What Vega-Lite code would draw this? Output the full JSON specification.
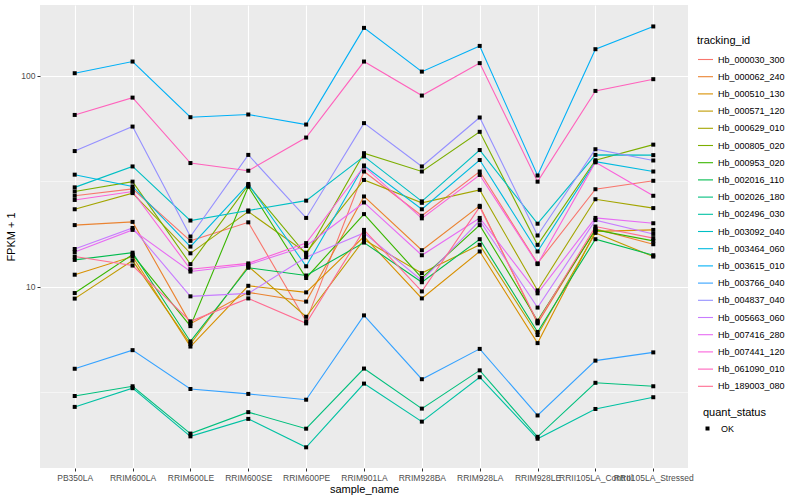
{
"$schema": "https://vega.github.io/schema/vega-lite/v6.json",
"width": 648, "height": 463,
"autosize": "none",
"padding": {"left": 40, "top": 5, "right": 112, "bottom": 32},
"background": "white",
"config": {
 "font": "Liberation Sans",
 "view": {"fill": "#EBEBEB", "stroke": null},
 "axis": {"domain": false, "gridColor": "white", "tickColor": "#333333", "labelColor": "#4D4D4D", "labelFontSize": 8.5, "titleFontSize": 11, "titleFontWeight": "normal", "titleColor": "black", "tickSize": 3, "labelPadding": 2},
 "legend": {"padding": 0, "titleFontSize": 11, "titleFontWeight": "normal", "titleColor": "black", "labelFontSize": 9, "labelColor": "black"}
},
"datasets": {"expr": [
{"sample_name":"PB350LA","tracking_id":"Hb_000030_300","fpkm":27.0,"quant_status":"OK"},
{"sample_name":"RRIM600LA","tracking_id":"Hb_000030_300","fpkm":29.1,"quant_status":"OK"},
{"sample_name":"RRIM600LE","tracking_id":"Hb_000030_300","fpkm":16.5,"quant_status":"OK"},
{"sample_name":"RRIM600SE","tracking_id":"Hb_000030_300","fpkm":20.2,"quant_status":"OK"},
{"sample_name":"RRIM600PE","tracking_id":"Hb_000030_300","fpkm":6.85,"quant_status":"OK"},
{"sample_name":"RRIM901LA","tracking_id":"Hb_000030_300","fpkm":35.2,"quant_status":"OK"},
{"sample_name":"RRIM928BA","tracking_id":"Hb_000030_300","fpkm":21.7,"quant_status":"OK"},
{"sample_name":"RRIM928LA","tracking_id":"Hb_000030_300","fpkm":35.2,"quant_status":"OK"},
{"sample_name":"RRIM928LE","tracking_id":"Hb_000030_300","fpkm":12.9,"quant_status":"OK"},
{"sample_name":"RRII105LA_Control","tracking_id":"Hb_000030_300","fpkm":29.0,"quant_status":"OK"},
{"sample_name":"RRII105LA_Stressed","tracking_id":"Hb_000030_300","fpkm":31.8,"quant_status":"OK"},
{"sample_name":"PB350LA","tracking_id":"Hb_000062_240","fpkm":19.6,"quant_status":"OK"},
{"sample_name":"RRIM600LA","tracking_id":"Hb_000062_240","fpkm":20.3,"quant_status":"OK"},
{"sample_name":"RRIM600LE","tracking_id":"Hb_000062_240","fpkm":6.68,"quant_status":"OK"},
{"sample_name":"RRIM600SE","tracking_id":"Hb_000062_240","fpkm":9.4,"quant_status":"OK"},
{"sample_name":"RRIM600PE","tracking_id":"Hb_000062_240","fpkm":8.5,"quant_status":"OK"},
{"sample_name":"RRIM901LA","tracking_id":"Hb_000062_240","fpkm":26.8,"quant_status":"OK"},
{"sample_name":"RRIM928BA","tracking_id":"Hb_000062_240","fpkm":14.9,"quant_status":"OK"},
{"sample_name":"RRIM928LA","tracking_id":"Hb_000062_240","fpkm":24.2,"quant_status":"OK"},
{"sample_name":"RRIM928LE","tracking_id":"Hb_000062_240","fpkm":6.7,"quant_status":"OK"},
{"sample_name":"RRII105LA_Control","tracking_id":"Hb_000062_240","fpkm":18.8,"quant_status":"OK"},
{"sample_name":"RRII105LA_Stressed","tracking_id":"Hb_000062_240","fpkm":15.9,"quant_status":"OK"},
{"sample_name":"PB350LA","tracking_id":"Hb_000510_130","fpkm":11.4,"quant_status":"OK"},
{"sample_name":"RRIM600LA","tracking_id":"Hb_000510_130","fpkm":13.9,"quant_status":"OK"},
{"sample_name":"RRIM600LE","tracking_id":"Hb_000510_130","fpkm":5.2,"quant_status":"OK"},
{"sample_name":"RRIM600SE","tracking_id":"Hb_000510_130","fpkm":10.1,"quant_status":"OK"},
{"sample_name":"RRIM600PE","tracking_id":"Hb_000510_130","fpkm":9.4,"quant_status":"OK"},
{"sample_name":"RRIM901LA","tracking_id":"Hb_000510_130","fpkm":17.3,"quant_status":"OK"},
{"sample_name":"RRIM928BA","tracking_id":"Hb_000510_130","fpkm":8.8,"quant_status":"OK"},
{"sample_name":"RRIM928LA","tracking_id":"Hb_000510_130","fpkm":14.7,"quant_status":"OK"},
{"sample_name":"RRIM928LE","tracking_id":"Hb_000510_130","fpkm":5.4,"quant_status":"OK"},
{"sample_name":"RRII105LA_Control","tracking_id":"Hb_000510_130","fpkm":18.3,"quant_status":"OK"},
{"sample_name":"RRII105LA_Stressed","tracking_id":"Hb_000510_130","fpkm":18.6,"quant_status":"OK"},
{"sample_name":"PB350LA","tracking_id":"Hb_000571_120","fpkm":8.78,"quant_status":"OK"},
{"sample_name":"RRIM600LA","tracking_id":"Hb_000571_120","fpkm":13.3,"quant_status":"OK"},
{"sample_name":"RRIM600LE","tracking_id":"Hb_000571_120","fpkm":5.35,"quant_status":"OK"},
{"sample_name":"RRIM600SE","tracking_id":"Hb_000571_120","fpkm":12.5,"quant_status":"OK"},
{"sample_name":"RRIM600PE","tracking_id":"Hb_000571_120","fpkm":7.2,"quant_status":"OK"},
{"sample_name":"RRIM901LA","tracking_id":"Hb_000571_120","fpkm":16.7,"quant_status":"OK"},
{"sample_name":"RRIM928BA","tracking_id":"Hb_000571_120","fpkm":11.6,"quant_status":"OK"},
{"sample_name":"RRIM928LA","tracking_id":"Hb_000571_120","fpkm":15.8,"quant_status":"OK"},
{"sample_name":"RRIM928LE","tracking_id":"Hb_000571_120","fpkm":5.9,"quant_status":"OK"},
{"sample_name":"RRII105LA_Control","tracking_id":"Hb_000571_120","fpkm":18.0,"quant_status":"OK"},
{"sample_name":"RRII105LA_Stressed","tracking_id":"Hb_000571_120","fpkm":13.9,"quant_status":"OK"},
{"sample_name":"PB350LA","tracking_id":"Hb_000629_010","fpkm":23.3,"quant_status":"OK"},
{"sample_name":"RRIM600LA","tracking_id":"Hb_000629_010","fpkm":27.8,"quant_status":"OK"},
{"sample_name":"RRIM600LE","tracking_id":"Hb_000629_010","fpkm":14.4,"quant_status":"OK"},
{"sample_name":"RRIM600SE","tracking_id":"Hb_000629_010","fpkm":22.7,"quant_status":"OK"},
{"sample_name":"RRIM600PE","tracking_id":"Hb_000629_010","fpkm":14.5,"quant_status":"OK"},
{"sample_name":"RRIM901LA","tracking_id":"Hb_000629_010","fpkm":32.1,"quant_status":"OK"},
{"sample_name":"RRIM928BA","tracking_id":"Hb_000629_010","fpkm":25.0,"quant_status":"OK"},
{"sample_name":"RRIM928LA","tracking_id":"Hb_000629_010","fpkm":28.8,"quant_status":"OK"},
{"sample_name":"RRIM928LE","tracking_id":"Hb_000629_010","fpkm":9.6,"quant_status":"OK"},
{"sample_name":"RRII105LA_Control","tracking_id":"Hb_000629_010","fpkm":26.0,"quant_status":"OK"},
{"sample_name":"RRII105LA_Stressed","tracking_id":"Hb_000629_010","fpkm":23.6,"quant_status":"OK"},
{"sample_name":"PB350LA","tracking_id":"Hb_000805_020","fpkm":28.3,"quant_status":"OK"},
{"sample_name":"RRIM600LA","tracking_id":"Hb_000805_020","fpkm":31.5,"quant_status":"OK"},
{"sample_name":"RRIM600LE","tracking_id":"Hb_000805_020","fpkm":12.8,"quant_status":"OK"},
{"sample_name":"RRIM600SE","tracking_id":"Hb_000805_020","fpkm":30.3,"quant_status":"OK"},
{"sample_name":"RRIM600PE","tracking_id":"Hb_000805_020","fpkm":14.2,"quant_status":"OK"},
{"sample_name":"RRIM901LA","tracking_id":"Hb_000805_020","fpkm":43.0,"quant_status":"OK"},
{"sample_name":"RRIM928BA","tracking_id":"Hb_000805_020","fpkm":35.2,"quant_status":"OK"},
{"sample_name":"RRIM928LA","tracking_id":"Hb_000805_020","fpkm":54.3,"quant_status":"OK"},
{"sample_name":"RRIM928LE","tracking_id":"Hb_000805_020","fpkm":15.8,"quant_status":"OK"},
{"sample_name":"RRII105LA_Control","tracking_id":"Hb_000805_020","fpkm":39.8,"quant_status":"OK"},
{"sample_name":"RRII105LA_Stressed","tracking_id":"Hb_000805_020","fpkm":47.2,"quant_status":"OK"},
{"sample_name":"PB350LA","tracking_id":"Hb_000953_020","fpkm":9.33,"quant_status":"OK"},
{"sample_name":"RRIM600LA","tracking_id":"Hb_000953_020","fpkm":14.2,"quant_status":"OK"},
{"sample_name":"RRIM600LE","tracking_id":"Hb_000953_020","fpkm":6.5,"quant_status":"OK"},
{"sample_name":"RRIM600SE","tracking_id":"Hb_000953_020","fpkm":29.8,"quant_status":"OK"},
{"sample_name":"RRIM600PE","tracking_id":"Hb_000953_020","fpkm":11.0,"quant_status":"OK"},
{"sample_name":"RRIM901LA","tracking_id":"Hb_000953_020","fpkm":22.1,"quant_status":"OK"},
{"sample_name":"RRIM928BA","tracking_id":"Hb_000953_020","fpkm":11.0,"quant_status":"OK"},
{"sample_name":"RRIM928LA","tracking_id":"Hb_000953_020","fpkm":19.6,"quant_status":"OK"},
{"sample_name":"RRIM928LE","tracking_id":"Hb_000953_020","fpkm":6.9,"quant_status":"OK"},
{"sample_name":"RRII105LA_Control","tracking_id":"Hb_000953_020","fpkm":18.6,"quant_status":"OK"},
{"sample_name":"RRII105LA_Stressed","tracking_id":"Hb_000953_020","fpkm":16.5,"quant_status":"OK"},
{"sample_name":"PB350LA","tracking_id":"Hb_002016_110","fpkm":13.4,"quant_status":"OK"},
{"sample_name":"RRIM600LA","tracking_id":"Hb_002016_110","fpkm":14.5,"quant_status":"OK"},
{"sample_name":"RRIM600LE","tracking_id":"Hb_002016_110","fpkm":5.5,"quant_status":"OK"},
{"sample_name":"RRIM600SE","tracking_id":"Hb_002016_110","fpkm":12.3,"quant_status":"OK"},
{"sample_name":"RRIM600PE","tracking_id":"Hb_002016_110","fpkm":11.3,"quant_status":"OK"},
{"sample_name":"RRIM901LA","tracking_id":"Hb_002016_110","fpkm":16.2,"quant_status":"OK"},
{"sample_name":"RRIM928BA","tracking_id":"Hb_002016_110","fpkm":10.5,"quant_status":"OK"},
{"sample_name":"RRIM928LA","tracking_id":"Hb_002016_110","fpkm":16.8,"quant_status":"OK"},
{"sample_name":"RRIM928LE","tracking_id":"Hb_002016_110","fpkm":6.1,"quant_status":"OK"},
{"sample_name":"RRII105LA_Control","tracking_id":"Hb_002016_110","fpkm":16.8,"quant_status":"OK"},
{"sample_name":"RRII105LA_Stressed","tracking_id":"Hb_002016_110","fpkm":14.1,"quant_status":"OK"},
{"sample_name":"PB350LA","tracking_id":"Hb_002026_180","fpkm":3.03,"quant_status":"OK"},
{"sample_name":"RRIM600LA","tracking_id":"Hb_002026_180","fpkm":3.37,"quant_status":"OK"},
{"sample_name":"RRIM600LE","tracking_id":"Hb_002026_180","fpkm":2.01,"quant_status":"OK"},
{"sample_name":"RRIM600SE","tracking_id":"Hb_002026_180","fpkm":2.54,"quant_status":"OK"},
{"sample_name":"RRIM600PE","tracking_id":"Hb_002026_180","fpkm":2.12,"quant_status":"OK"},
{"sample_name":"RRIM901LA","tracking_id":"Hb_002026_180","fpkm":4.09,"quant_status":"OK"},
{"sample_name":"RRIM928BA","tracking_id":"Hb_002026_180","fpkm":2.64,"quant_status":"OK"},
{"sample_name":"RRIM928LA","tracking_id":"Hb_002026_180","fpkm":4.01,"quant_status":"OK"},
{"sample_name":"RRIM928LE","tracking_id":"Hb_002026_180","fpkm":1.94,"quant_status":"OK"},
{"sample_name":"RRII105LA_Control","tracking_id":"Hb_002026_180","fpkm":3.5,"quant_status":"OK"},
{"sample_name":"RRII105LA_Stressed","tracking_id":"Hb_002026_180","fpkm":3.37,"quant_status":"OK"},
{"sample_name":"PB350LA","tracking_id":"Hb_002496_030","fpkm":2.69,"quant_status":"OK"},
{"sample_name":"RRIM600LA","tracking_id":"Hb_002496_030","fpkm":3.30,"quant_status":"OK"},
{"sample_name":"RRIM600LE","tracking_id":"Hb_002496_030","fpkm":1.95,"quant_status":"OK"},
{"sample_name":"RRIM600SE","tracking_id":"Hb_002496_030","fpkm":2.36,"quant_status":"OK"},
{"sample_name":"RRIM600PE","tracking_id":"Hb_002496_030","fpkm":1.73,"quant_status":"OK"},
{"sample_name":"RRIM901LA","tracking_id":"Hb_002496_030","fpkm":3.47,"quant_status":"OK"},
{"sample_name":"RRIM928BA","tracking_id":"Hb_002496_030","fpkm":2.29,"quant_status":"OK"},
{"sample_name":"RRIM928LA","tracking_id":"Hb_002496_030","fpkm":3.72,"quant_status":"OK"},
{"sample_name":"RRIM928LE","tracking_id":"Hb_002496_030","fpkm":1.9,"quant_status":"OK"},
{"sample_name":"RRII105LA_Control","tracking_id":"Hb_002496_030","fpkm":2.63,"quant_status":"OK"},
{"sample_name":"RRII105LA_Stressed","tracking_id":"Hb_002496_030","fpkm":2.99,"quant_status":"OK"},
{"sample_name":"PB350LA","tracking_id":"Hb_003092_040","fpkm":29.6,"quant_status":"OK"},
{"sample_name":"RRIM600LA","tracking_id":"Hb_003092_040","fpkm":37.2,"quant_status":"OK"},
{"sample_name":"RRIM600LE","tracking_id":"Hb_003092_040","fpkm":20.6,"quant_status":"OK"},
{"sample_name":"RRIM600SE","tracking_id":"Hb_003092_040","fpkm":23.0,"quant_status":"OK"},
{"sample_name":"RRIM600PE","tracking_id":"Hb_003092_040","fpkm":25.6,"quant_status":"OK"},
{"sample_name":"RRIM901LA","tracking_id":"Hb_003092_040","fpkm":41.5,"quant_status":"OK"},
{"sample_name":"RRIM928BA","tracking_id":"Hb_003092_040","fpkm":25.4,"quant_status":"OK"},
{"sample_name":"RRIM928LA","tracking_id":"Hb_003092_040","fpkm":44.5,"quant_status":"OK"},
{"sample_name":"RRIM928LE","tracking_id":"Hb_003092_040","fpkm":19.9,"quant_status":"OK"},
{"sample_name":"RRII105LA_Control","tracking_id":"Hb_003092_040","fpkm":42.2,"quant_status":"OK"},
{"sample_name":"RRII105LA_Stressed","tracking_id":"Hb_003092_040","fpkm":42.1,"quant_status":"OK"},
{"sample_name":"PB350LA","tracking_id":"Hb_003464_060","fpkm":34.0,"quant_status":"OK"},
{"sample_name":"RRIM600LA","tracking_id":"Hb_003464_060","fpkm":29.9,"quant_status":"OK"},
{"sample_name":"RRIM600LE","tracking_id":"Hb_003464_060","fpkm":15.5,"quant_status":"OK"},
{"sample_name":"RRIM600SE","tracking_id":"Hb_003464_060","fpkm":30.7,"quant_status":"OK"},
{"sample_name":"RRIM600PE","tracking_id":"Hb_003464_060","fpkm":12.5,"quant_status":"OK"},
{"sample_name":"RRIM901LA","tracking_id":"Hb_003464_060","fpkm":37.6,"quant_status":"OK"},
{"sample_name":"RRIM928BA","tracking_id":"Hb_003464_060","fpkm":23.3,"quant_status":"OK"},
{"sample_name":"RRIM928LA","tracking_id":"Hb_003464_060","fpkm":39.9,"quant_status":"OK"},
{"sample_name":"RRIM928LE","tracking_id":"Hb_003464_060","fpkm":14.7,"quant_status":"OK"},
{"sample_name":"RRII105LA_Control","tracking_id":"Hb_003464_060","fpkm":39.2,"quant_status":"OK"},
{"sample_name":"RRII105LA_Stressed","tracking_id":"Hb_003464_060","fpkm":35.2,"quant_status":"OK"},
{"sample_name":"PB350LA","tracking_id":"Hb_003615_010","fpkm":103,"quant_status":"OK"},
{"sample_name":"RRIM600LA","tracking_id":"Hb_003615_010","fpkm":117,"quant_status":"OK"},
{"sample_name":"RRIM600LE","tracking_id":"Hb_003615_010","fpkm":63.7,"quant_status":"OK"},
{"sample_name":"RRIM600SE","tracking_id":"Hb_003615_010","fpkm":65.6,"quant_status":"OK"},
{"sample_name":"RRIM600PE","tracking_id":"Hb_003615_010","fpkm":58.8,"quant_status":"OK"},
{"sample_name":"RRIM901LA","tracking_id":"Hb_003615_010","fpkm":169,"quant_status":"OK"},
{"sample_name":"RRIM928BA","tracking_id":"Hb_003615_010","fpkm":104.8,"quant_status":"OK"},
{"sample_name":"RRIM928LA","tracking_id":"Hb_003615_010","fpkm":138.8,"quant_status":"OK"},
{"sample_name":"RRIM928LE","tracking_id":"Hb_003615_010","fpkm":33.7,"quant_status":"OK"},
{"sample_name":"RRII105LA_Control","tracking_id":"Hb_003615_010","fpkm":133.9,"quant_status":"OK"},
{"sample_name":"RRII105LA_Stressed","tracking_id":"Hb_003615_010","fpkm":171.7,"quant_status":"OK"},
{"sample_name":"PB350LA","tracking_id":"Hb_003766_040","fpkm":4.08,"quant_status":"OK"},
{"sample_name":"RRIM600LA","tracking_id":"Hb_003766_040","fpkm":5.0,"quant_status":"OK"},
{"sample_name":"RRIM600LE","tracking_id":"Hb_003766_040","fpkm":3.27,"quant_status":"OK"},
{"sample_name":"RRIM600SE","tracking_id":"Hb_003766_040","fpkm":3.10,"quant_status":"OK"},
{"sample_name":"RRIM600PE","tracking_id":"Hb_003766_040","fpkm":2.91,"quant_status":"OK"},
{"sample_name":"RRIM901LA","tracking_id":"Hb_003766_040","fpkm":7.31,"quant_status":"OK"},
{"sample_name":"RRIM928BA","tracking_id":"Hb_003766_040","fpkm":3.64,"quant_status":"OK"},
{"sample_name":"RRIM928LA","tracking_id":"Hb_003766_040","fpkm":5.07,"quant_status":"OK"},
{"sample_name":"RRIM928LE","tracking_id":"Hb_003766_040","fpkm":2.45,"quant_status":"OK"},
{"sample_name":"RRII105LA_Control","tracking_id":"Hb_003766_040","fpkm":4.46,"quant_status":"OK"},
{"sample_name":"RRII105LA_Stressed","tracking_id":"Hb_003766_040","fpkm":4.88,"quant_status":"OK"},
{"sample_name":"PB350LA","tracking_id":"Hb_004837_040","fpkm":44.0,"quant_status":"OK"},
{"sample_name":"RRIM600LA","tracking_id":"Hb_004837_040","fpkm":57.5,"quant_status":"OK"},
{"sample_name":"RRIM600LE","tracking_id":"Hb_004837_040","fpkm":17.3,"quant_status":"OK"},
{"sample_name":"RRIM600SE","tracking_id":"Hb_004837_040","fpkm":42.2,"quant_status":"OK"},
{"sample_name":"RRIM600PE","tracking_id":"Hb_004837_040","fpkm":21.2,"quant_status":"OK"},
{"sample_name":"RRIM901LA","tracking_id":"Hb_004837_040","fpkm":59.7,"quant_status":"OK"},
{"sample_name":"RRIM928BA","tracking_id":"Hb_004837_040","fpkm":37.2,"quant_status":"OK"},
{"sample_name":"RRIM928LA","tracking_id":"Hb_004837_040","fpkm":63.5,"quant_status":"OK"},
{"sample_name":"RRIM928LE","tracking_id":"Hb_004837_040","fpkm":17.5,"quant_status":"OK"},
{"sample_name":"RRII105LA_Control","tracking_id":"Hb_004837_040","fpkm":44.9,"quant_status":"OK"},
{"sample_name":"RRII105LA_Stressed","tracking_id":"Hb_004837_040","fpkm":39.7,"quant_status":"OK"},
{"sample_name":"PB350LA","tracking_id":"Hb_005663_060","fpkm":15.1,"quant_status":"OK"},
{"sample_name":"RRIM600LA","tracking_id":"Hb_005663_060","fpkm":19.0,"quant_status":"OK"},
{"sample_name":"RRIM600LE","tracking_id":"Hb_005663_060","fpkm":9.0,"quant_status":"OK"},
{"sample_name":"RRIM600SE","tracking_id":"Hb_005663_060","fpkm":9.3,"quant_status":"OK"},
{"sample_name":"RRIM600PE","tracking_id":"Hb_005663_060","fpkm":13.8,"quant_status":"OK"},
{"sample_name":"RRIM901LA","tracking_id":"Hb_005663_060","fpkm":18.0,"quant_status":"OK"},
{"sample_name":"RRIM928BA","tracking_id":"Hb_005663_060","fpkm":10.7,"quant_status":"OK"},
{"sample_name":"RRIM928LA","tracking_id":"Hb_005663_060","fpkm":20.6,"quant_status":"OK"},
{"sample_name":"RRIM928LE","tracking_id":"Hb_005663_060","fpkm":7.96,"quant_status":"OK"},
{"sample_name":"RRII105LA_Control","tracking_id":"Hb_005663_060","fpkm":20.7,"quant_status":"OK"},
{"sample_name":"RRII105LA_Stressed","tracking_id":"Hb_005663_060","fpkm":17.8,"quant_status":"OK"},
{"sample_name":"PB350LA","tracking_id":"Hb_007416_280","fpkm":14.6,"quant_status":"OK"},
{"sample_name":"RRIM600LA","tracking_id":"Hb_007416_280","fpkm":18.6,"quant_status":"OK"},
{"sample_name":"RRIM600LE","tracking_id":"Hb_007416_280","fpkm":11.8,"quant_status":"OK"},
{"sample_name":"RRIM600SE","tracking_id":"Hb_007416_280","fpkm":12.7,"quant_status":"OK"},
{"sample_name":"RRIM600PE","tracking_id":"Hb_007416_280","fpkm":15.6,"quant_status":"OK"},
{"sample_name":"RRIM901LA","tracking_id":"Hb_007416_280","fpkm":25.1,"quant_status":"OK"},
{"sample_name":"RRIM928BA","tracking_id":"Hb_007416_280","fpkm":14.1,"quant_status":"OK"},
{"sample_name":"RRIM928LA","tracking_id":"Hb_007416_280","fpkm":21.2,"quant_status":"OK"},
{"sample_name":"RRIM928LE","tracking_id":"Hb_007416_280","fpkm":9.3,"quant_status":"OK"},
{"sample_name":"RRII105LA_Control","tracking_id":"Hb_007416_280","fpkm":21.2,"quant_status":"OK"},
{"sample_name":"RRII105LA_Stressed","tracking_id":"Hb_007416_280","fpkm":20.0,"quant_status":"OK"},
{"sample_name":"PB350LA","tracking_id":"Hb_007441_120","fpkm":25.8,"quant_status":"OK"},
{"sample_name":"RRIM600LA","tracking_id":"Hb_007441_120","fpkm":28.3,"quant_status":"OK"},
{"sample_name":"RRIM600LE","tracking_id":"Hb_007441_120","fpkm":12.1,"quant_status":"OK"},
{"sample_name":"RRIM600SE","tracking_id":"Hb_007441_120","fpkm":12.9,"quant_status":"OK"},
{"sample_name":"RRIM600PE","tracking_id":"Hb_007441_120","fpkm":16.1,"quant_status":"OK"},
{"sample_name":"RRIM901LA","tracking_id":"Hb_007441_120","fpkm":37.2,"quant_status":"OK"},
{"sample_name":"RRIM928BA","tracking_id":"Hb_007441_120","fpkm":21.1,"quant_status":"OK"},
{"sample_name":"RRIM928LA","tracking_id":"Hb_007441_120","fpkm":33.9,"quant_status":"OK"},
{"sample_name":"RRIM928LE","tracking_id":"Hb_007441_120","fpkm":12.8,"quant_status":"OK"},
{"sample_name":"RRII105LA_Control","tracking_id":"Hb_007441_120","fpkm":38.9,"quant_status":"OK"},
{"sample_name":"RRII105LA_Stressed","tracking_id":"Hb_007441_120","fpkm":27.0,"quant_status":"OK"},
{"sample_name":"PB350LA","tracking_id":"Hb_061090_010","fpkm":65.3,"quant_status":"OK"},
{"sample_name":"RRIM600LA","tracking_id":"Hb_061090_010","fpkm":78.9,"quant_status":"OK"},
{"sample_name":"RRIM600LE","tracking_id":"Hb_061090_010","fpkm":38.6,"quant_status":"OK"},
{"sample_name":"RRIM600SE","tracking_id":"Hb_061090_010","fpkm":35.5,"quant_status":"OK"},
{"sample_name":"RRIM600PE","tracking_id":"Hb_061090_010","fpkm":51.0,"quant_status":"OK"},
{"sample_name":"RRIM901LA","tracking_id":"Hb_061090_010","fpkm":117,"quant_status":"OK"},
{"sample_name":"RRIM928BA","tracking_id":"Hb_061090_010","fpkm":80.7,"quant_status":"OK"},
{"sample_name":"RRIM928LA","tracking_id":"Hb_061090_010","fpkm":115,"quant_status":"OK"},
{"sample_name":"RRIM928LE","tracking_id":"Hb_061090_010","fpkm":31.5,"quant_status":"OK"},
{"sample_name":"RRII105LA_Control","tracking_id":"Hb_061090_010","fpkm":84.9,"quant_status":"OK"},
{"sample_name":"RRII105LA_Stressed","tracking_id":"Hb_061090_010","fpkm":96.5,"quant_status":"OK"},
{"sample_name":"PB350LA","tracking_id":"Hb_189003_080","fpkm":13.9,"quant_status":"OK"},
{"sample_name":"RRIM600LA","tracking_id":"Hb_189003_080","fpkm":12.6,"quant_status":"OK"},
{"sample_name":"RRIM600LE","tracking_id":"Hb_189003_080","fpkm":6.85,"quant_status":"OK"},
{"sample_name":"RRIM600SE","tracking_id":"Hb_189003_080","fpkm":8.8,"quant_status":"OK"},
{"sample_name":"RRIM600PE","tracking_id":"Hb_189003_080","fpkm":6.7,"quant_status":"OK"},
{"sample_name":"RRIM901LA","tracking_id":"Hb_189003_080","fpkm":18.6,"quant_status":"OK"},
{"sample_name":"RRIM928BA","tracking_id":"Hb_189003_080","fpkm":9.5,"quant_status":"OK"},
{"sample_name":"RRIM928LA","tracking_id":"Hb_189003_080","fpkm":23.9,"quant_status":"OK"},
{"sample_name":"RRIM928LE","tracking_id":"Hb_189003_080","fpkm":6.8,"quant_status":"OK"},
{"sample_name":"RRII105LA_Control","tracking_id":"Hb_189003_080","fpkm":19.3,"quant_status":"OK"},
{"sample_name":"RRII105LA_Stressed","tracking_id":"Hb_189003_080","fpkm":17.0,"quant_status":"OK"}
]},
"data": {"name": "expr"},
"encoding": {
 "x": {"field": "sample_name", "type": "nominal",
  "sort": ["PB350LA","RRIM600LA","RRIM600LE","RRIM600SE","RRIM600PE","RRIM901LA","RRIM928BA","RRIM928LA","RRIM928LE","RRII105LA_Control","RRII105LA_Stressed"],
  "scale": {"type": "point", "padding": 0.6},
  "axis": {"title": "sample_name", "labelAngle": 0, "labelOverlap": false, "labelBound": false, "labelFlush": false, "grid": true, "gridWidth": 1.1, "titlePadding": 2}},
 "y": {"field": "fpkm", "type": "quantitative",
  "scale": {"type": "log", "domain": [1.38, 217], "nice": false, "zero": false},
  "axis": {"title": "FPKM + 1", "values": [3.16228, 10, 31.6228, 100], "grid": true,
   "gridWidth": {"condition": {"test": "datum.value === 10 || datum.value === 100", "value": 1.1}, "value": 0.5},
   "tickOpacity": {"condition": {"test": "datum.value === 10 || datum.value === 100", "value": 1}, "value": 0},
   "labelExpr": "(datum.value === 10 || datum.value === 100) ? format(datum.value, 'd') : ''",
   "titlePadding": 4}}
},
"layer": [
 {"mark": {"type": "line", "strokeWidth": 1.1},
  "encoding": {"color": {"field": "tracking_id", "type": "nominal",
   "scale": {"range": ["#F8766D","#EA8331","#D89000","#C09B00","#A3A500","#7CAE00","#39B600","#00BB4E","#00BF7D","#00C1A3","#00BFC4","#00BAE0","#00B0F6","#35A2FF","#9590FF","#C77CFF","#E76BF3","#FA62DB","#FF62BC","#FF6C91"]},
   "legend": {"title": "tracking_id", "orient": "none", "legendX": 657, "legendY": 30, "symbolType": "stroke", "symbolStrokeWidth": 1.1, "symbolSize": 225, "rowPadding": 3.2, "labelOffset": 4, "titlePadding": 5}}}},
 {"mark": {"type": "point", "filled": true, "size": 16, "opacity": 1, "color": "black"},
  "encoding": {"shape": {"field": "quant_status", "type": "nominal", "scale": {"range": ["square"]},
   "legend": {"title": "quant_status", "orient": "none", "legendX": 663, "legendY": 402, "symbolFillColor": "black", "symbolStrokeColor": "black", "symbolSize": 16, "labelOffset": 9, "titlePadding": 6}}}}
]
}
